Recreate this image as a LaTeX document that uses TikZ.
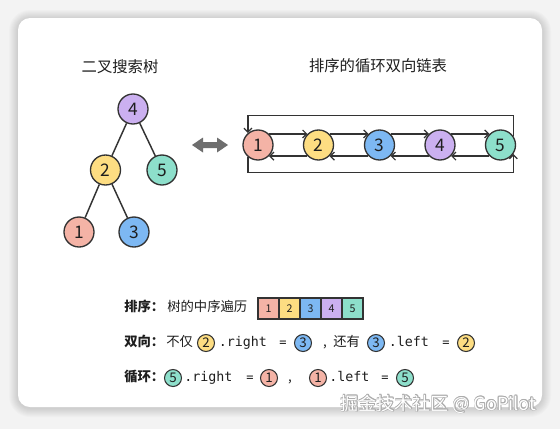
\documentclass[tikz,border=0pt]{standalone}
\usepackage{fontspec}
\setmainfont{Noto Sans CJK SC}
\setmonofont{DejaVu Sans Mono}
\usetikzlibrary{arrows.meta,calc}
\definecolor{cA}{HTML}{F4B3A6}
\definecolor{cB}{HTML}{FDDD82}
\definecolor{cC}{HTML}{7DB8F3}
\definecolor{cD}{HTML}{CBB0F0}
\definecolor{cE}{HTML}{8DDFCB}
\definecolor{edge}{HTML}{333333}
\definecolor{ink}{HTML}{1E1E1E}
\definecolor{bgc}{HTML}{F3F3F3}
\definecolor{dgray}{HTML}{6E6E6E}
\tikzset{
  tn/.style={circle, draw=edge, line width=1pt, minimum size=22.5pt, inner sep=0pt,
    font=\fontsize{13}{13}\selectfont, text=ink},
  sn/.style={circle, draw=edge, line width=0.8pt, minimum size=12.75pt, inner sep=0pt,
    font=\fontsize{10}{10}\selectfont, text=ink},
  cell/.style={rectangle, draw=edge, line width=0.8pt, minimum width=15.75pt,
    minimum height=15.75pt, inner sep=0pt, font=\fontsize{8}{8}\selectfont, text=ink},
  txt/.style={inner sep=0pt, anchor=west, text height=7.5pt, text depth=2pt,
    font=\fontsize{10}{10}\selectfont, text=ink},
  btxt/.style={txt, font=\fontsize{10}{10}\selectfont\bfseries},
  mono/.style={txt, font=\fontsize{10}{10}\selectfont\ttfamily},
  ctxt/.style={txt, anchor=center},
  title/.style={inner sep=0pt, font=\fontsize{11.5}{11.5}\selectfont, text=ink},
  tline/.style={draw=edge, line width=1.1pt},
  larr/.style={draw=edge, line width=0.9pt, -{Straight Barb[length=3pt,width=6pt]}},
  darr/.style={fill=dgray},
  wmark/.style={inner sep=0pt, font=\fontsize{13.5}{13.5}\selectfont},
}
\begin{document}
\begin{tikzpicture}[x=0.75pt,y=-0.75pt]
\useasboundingbox (0,0) rectangle (560,429);
\fill[bgc] (0,0) rectangle (560,429);
% soft shadow of the card
\foreach \i in {1,...,9}{
  \fill[black, opacity=0.016, rounded corners=9pt+0.75*\i pt]
    (18-\i,18-\i+1) rectangle (542+\i,407+\i+1);
}
\fill[white, rounded corners=9pt] (18,18) rectangle (542,407);

% titles
\node[title] (t1) at (120,67) {二叉搜索树};
\node[title] (t2) at (378,66) {排序的循环双向链表};

% binary search tree
\node[tn, fill=cD] (b4) at (133,109) {4};
\node[tn, fill=cB] (b2) at (105.5,170) {2};
\node[tn, fill=cE] (b5) at (162,170) {5};
\node[tn, fill=cA] (b1) at (79,232) {1};
\node[tn, fill=cC] (b3) at (134,232) {3};
\draw[tline] (b4) -- (b2);
\draw[tline] (b4) -- (b5);
\draw[tline] (b2) -- (b1);
\draw[tline] (b2) -- (b3);

% double arrow
\fill[darr] (192,145) -- (203,137.5) -- (203,142) -- (217,142) -- (217,137.5) -- (228,145)
  -- (217,152.5) -- (217,148) -- (203,148) -- (203,152.5) -- cycle;

% circular doubly linked list
\node[tn, fill=cA] (l1) at (258,145) {1};
\node[tn, fill=cB] (l2) at (318.5,145) {2};
\node[tn, fill=cC] (l3) at (379.5,145) {3};
\node[tn, fill=cD] (l4) at (440,145) {4};
\node[tn, fill=cE] (l5) at (500.5,145) {5};
\foreach \a/\b in {l1/l2,l2/l3,l3/l4,l4/l5}{
  \draw[larr] (\a.45) -- (\b.135);
  \draw[larr] (\b.-135) -- (\a.-45);
}
\coordinate (top) at (0,115.7);
\coordinate (bot) at (0,172.7);
\draw[larr] (l5.35) -- (l5.35 |- top) -| (l1.130);
\draw[larr] (l1.230) -- (l1.230 |- bot) -| (l5.325);

% line 1
\node[btxt] (p1) at (124,308) {排序：};
\node[txt] (p2) at (167,308) {树的中序遍历};
\node[cell, fill=cA] (a1) at (268.5,308.5) {1};
\node[cell, fill=cB] (a2) at (289.5,308.5) {2};
\node[cell, fill=cC] (a3) at (310.5,308.5) {3};
\node[cell, fill=cD] (a4) at (331.5,308.5) {4};
\node[cell, fill=cE] (a5) at (352.5,308.5) {5};

% line 2
\node[btxt] (q1) at (124,343) {双向：};
\node[txt] (q2) at (166,343) {不仅};
\node[sn, fill=cB] (q3) at (206,343) {2};
\node[mono] (q4) at (218.5,343) {.right};
\node[ctxt, font=\fontsize{9}{9}\selectfont\ttfamily] (q5) at (283,343) {=};
\node[sn, fill=cC] (q6) at (303,343) {3};
\node[ctxt] (q7) at (325,343) {,};
\node[txt] (q8) at (333,343) {还有};
\node[sn, fill=cC] (q9) at (376,343) {3};
\node[mono] (q10) at (388.5,343) {.left};
\node[ctxt, font=\fontsize{9}{9}\selectfont\ttfamily] (q11) at (446,343) {=};
\node[sn, fill=cB] (q12) at (466,343) {2};

% line 3
\node[btxt] (r1) at (124,378) {循环：};
\node[sn, fill=cE] (r2) at (173,378) {5};
\node[mono] (r3) at (184,378) {.right};
\node[ctxt, font=\fontsize{9}{9}\selectfont\ttfamily] (r4) at (250,378) {=};
\node[sn, fill=cA] (r5) at (269,378) {1};
\node[ctxt] (r6) at (290,378) {,};
\node[sn, fill=cA] (r7) at (318,378) {1};
\node[mono] (r8) at (329,378) {.left};
\node[ctxt, font=\fontsize{9}{9}\selectfont\ttfamily] (r9) at (385,378) {=};
\node[sn, fill=cE] (r10) at (405,378) {5};

% watermark
\foreach \dx/\dy [count=\k] in {0.7/0,-0.7/0,0/0.7,0/-0.7,0.5/0.5,-0.5/0.5,0.5/-0.5,-0.5/-0.5}{
  \node[wmark, text=gray!65] (w\k) at (438.5+\dx,404+\dy) {掘金技术社区 @ GoPilot};
}
\node[wmark, text=white] (w) at (438.5,404) {掘金技术社区 @ GoPilot};
\end{tikzpicture}
\end{document}
